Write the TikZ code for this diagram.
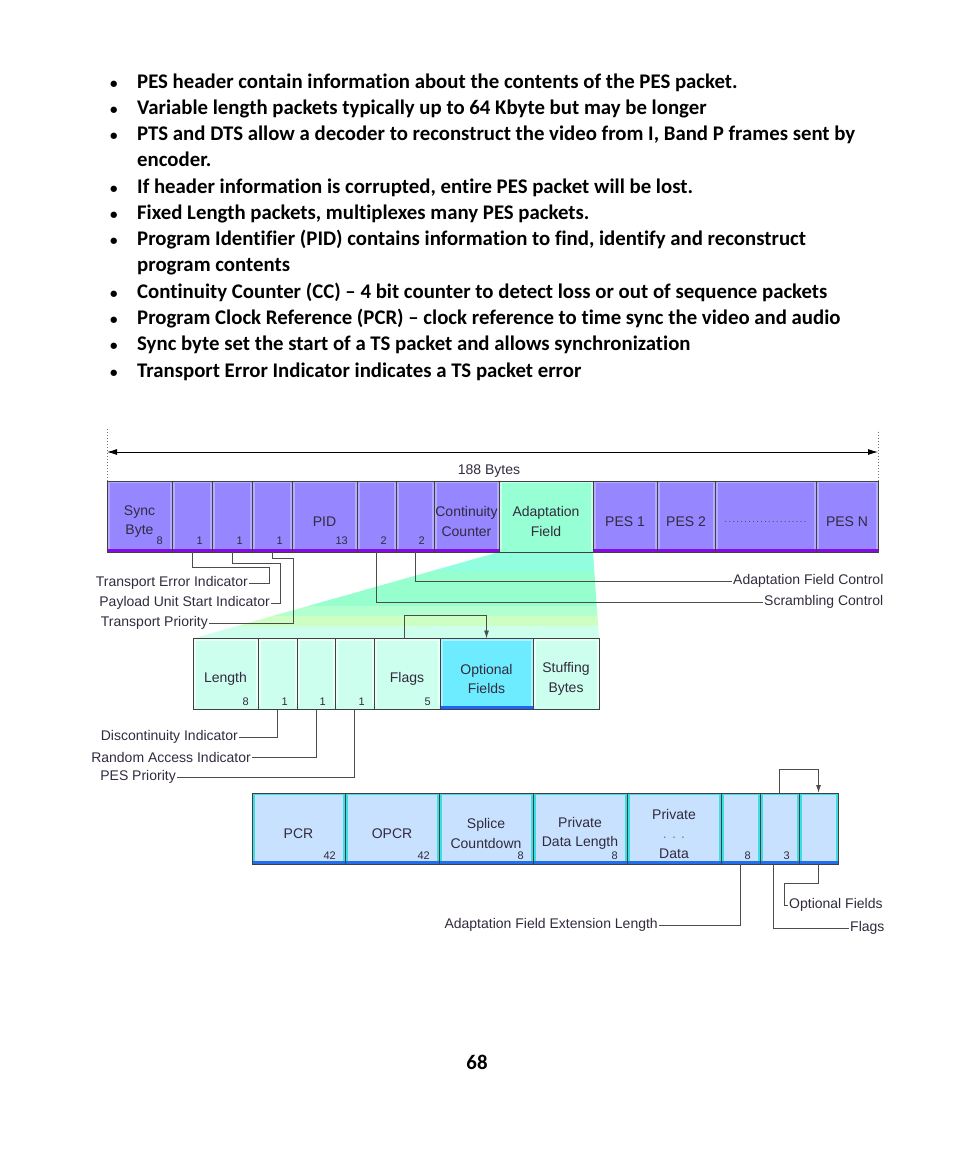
\documentclass[tikz,border=0pt]{standalone}
\usepackage{fontspec}
\setmainfont{Liberation Sans}
\newfontfamily\notefont[Ligatures=NoCommon]{Carlito}
\usepackage{xcolor}
\usepackage{tikz}
\usetikzlibrary{arrows.meta, positioning, backgrounds}

\definecolor{tspurple}{RGB}{150,134,255}
\definecolor{tsedge}{RGB}{182,170,255}
\definecolor{tsband}{RGB}{135,10,230}
\definecolor{afgreen}{RGB}{150,255,212}
\definecolor{afpale}{RGB}{205,255,238}
\definecolor{optcyan}{RGB}{110,236,255}
\definecolor{optblue}{RGB}{30,100,250}
\definecolor{exblue}{RGB}{200,225,255}
\definecolor{exedge}{RGB}{60,222,228}
\definecolor{exband}{RGB}{35,110,235}
\definecolor{txtgray}{RGB}{50,42,62}
\definecolor{gA}{RGB}{145,255,222}
\definecolor{gB}{RGB}{150,255,205}
\definecolor{gC}{RGB}{178,255,208}
\definecolor{gD}{RGB}{205,255,195}
\definecolor{gE}{RGB}{205,255,236}
\definecolor{cA}{RGB}{35,95,250}
\definecolor{cB}{RGB}{50,225,225}
\definecolor{cC}{RGB}{95,232,245}
\definecolor{cD}{RGB}{135,236,255}
\definecolor{cE}{RGB}{192,224,255}

\begin{document}
\begin{tikzpicture}[x=1pt, y=-1pt, >={Latex[length=8pt,width=5pt]},
    note/.style={font=\notefont\bfseries\fontsize{20.8}{26}\selectfont, anchor=west,
        inner sep=0pt, text height=14pt, text depth=5pt},
    pktbox/.style n args={3}{draw=black!75, line width=0.9pt, fill=#1, minimum height=71pt,
        inner sep=0pt, outer sep=0pt, path picture={
        \fill[#2] (path picture bounding box.north west) rectangle ([xshift=2.5pt]path picture bounding box.south west);
        \fill[#2] ([xshift=-2.5pt]path picture bounding box.north east) rectangle (path picture bounding box.south east);
        \fill[#2] (path picture bounding box.north west) rectangle ([yshift=-2pt]path picture bounding box.north east);
        \fill[#3] ([yshift=3.5pt]path picture bounding box.south west) rectangle (path picture bounding box.south east);}},
    tsrow/.style={pktbox={tspurple}{tsedge}{tsband}},
    afrow/.style={pktbox={afpale}{white!55!afpale}{afpale}},
    exrow/.style={pktbox={exblue}{exedge}{exband}},
    fieldtxt/.style={font=\fontsize{14}{19.5}\selectfont, text=txtgray, align=center,
        inner sep=0pt, anchor=center, yshift=-5pt},
    sizetxt/.style={font=\fontsize{11}{11}\selectfont, text=txtgray, inner sep=1pt,
        anchor=south east, xshift=-8pt},
    leadtxt/.style={font=\fontsize{14}{16}\selectfont, text=txtgray, inner sep=1pt},
    leader/.style={draw=black!70, line width=0.9pt}]

    \useasboundingbox (0,0) rectangle (954,1159);

    % Các ý chính
    \foreach \yy in {82,108,134,187,213,239,292,318,344,371}
        \node[note, font=\notefont\bfseries\fontsize{15}{15}\selectfont] (dot\yy) at (110,\yy+1.5) {\textbullet};
    \foreach \yy/\txt [count=\i] in {
        82/{PES header contain information about the contents of the PES packet.},
        108/{Variable length packets typically up to 64 Kbyte but may be longer},
        134/{PTS and DTS allow a decoder to reconstruct the video from I, Band P frames sent by},
        160/{encoder.},
        187/{If header information is corrupted, entire PES packet will be lost.},
        213/{Fixed Length packets, multiplexes many PES packets.},
        239/{Program Identifier (PID) contains information to find, identify and reconstruct},
        265/{program contents},
        292/{Continuity Counter (CC) – 4 bit counter to detect loss or out of sequence packets},
        318/{Program Clock Reference (PCR) – clock reference to time sync the video and audio},
        344/{Sync byte set the start of a TS packet and allows synchronization},
        371/{Transport Error Indicator indicates a TS packet error}}
        \node[note] (line\i) at (137,\yy+2) {\txt};

    % Gói TS 188 byte
    \coordinate (spanl) at (107,452);
    \coordinate (spanr) at (878,452);
    \draw[{Latex[length=10pt,width=6pt]}-{Latex[length=10pt,width=6pt]}, line width=0.9pt] (spanl) -- (spanr);
    \node[leadtxt] (bytes) at (489,471) {188 Bytes};

    \foreach \nm/\xa/\xb/\txt/\sz in {sync/107/172/{Sync\\Byte}/8, tei/172/212/{}/1,
        pusi/212/252/{}/1, tpri/252/292/{}/1, pid/292/357/PID/13, scr/357/396/{}/2,
        afc/396/434/{}/2, cc/434/499/{Continuity\\Counter}/{}, pes1/593/657/{PES 1}/{},
        pes2/657/715/{PES 2}/{}, pesn/816/878/{PES N}/{}}
        \node[tsrow, minimum width={\xb-\xa}, label={[fieldtxt]center:\txt},
            label={[sizetxt, yshift=6pt]south east:\sz}] (\nm) at ({(\xa+\xb)/2},516.5) {};
    \node[pktbox={afgreen}{afgreen!50!white}{afgreen}, minimum width=94,
        label={[fieldtxt]center:{Adaptation\\Field}}] (adapt) at (546,516.5) {};
    \node[tsrow, minimum width=101,
        label={[fieldtxt, yshift=-1pt]center:{\color{black!75}\fontsize{9}{9}\selectfont\hbox to 84pt{\dotfill}}}] (pesdots) at (765.5,516.5) {};

    \draw[dotted, line width=1pt, black!55] (sync.north west) -- ++(0,-53);
    \draw[dotted, line width=1pt, black!55] (pesn.north east) -- ++(0,-51);

    % Trường thích ứng
    \foreach \nm/\xa/\xb/\txt/\sz in {aflen/193/258/Length/8, disc/258/297/{}/1,
        rai/297/335/{}/1, espri/335/374/{}/1, flags/374/440/Flags/5,
        stuff/533/599/{Stuffing\\Bytes}/{}}
        \node[afrow, minimum width={\xb-\xa}, label={[fieldtxt]center:\txt},
            label={[sizetxt, yshift=3pt]south east:\sz}] (\nm) at ({(\xa+\xb)/2},674) {};
    \node[pktbox={optcyan}{optcyan!60!white}{optblue}, minimum width=93,
        label={[fieldtxt]center:{Optional\\Fields}}] (opt) at (486.5,674) {};

    % Các trường tùy chọn
    \foreach \nm/\xa/\xb/\txt/\sz in {pcr/252/345/PCR/42, opcr/345/439/OPCR/42,
        splice/439/533/{Splice\\Countdown}/8, pdlen/533/627/{Private\\Data Length}/8,
        pdata/627/721/{Private\\{\color{gray}. . .}\\Data}/{}, extlen/721/760/{}/8,
        extflags/760/799/{}/3, extopt/799/838/{}/{}}
        \node[exrow, minimum width={\xb-\xa}, label={[fieldtxt]center:\txt},
            label={[sizetxt, yshift=3pt]south east:\sz}] (\nm) at ({(\xa+\xb)/2},828.5) {};

    % Dải màu nối các hàng
    \begin{scope}[on background layer]
        \clip (adapt.south west) -- (adapt.south east) -- (stuff.north east) -- (aflen.north west) -- cycle;
        \fill[gA] (0,550) rectangle (954,572);
        \fill[gB] (0,572) rectangle (954,606);
        \fill[gC] (0,606) rectangle (954,616);
        \fill[gD] (0,616) rectangle (954,626);
        \fill[gE] (0,626) rectangle (954,640);
    \end{scope}
    \begin{scope}[on background layer]
        \clip (opt.south west) -- (opt.south east) -- (extopt.north east) -- (pcr.north west) -- cycle;
        \fill[cA] (0,706) rectangle (954,717);
        \fill[cB] (0,717) rectangle (954,742);
        \fill[cC] (0,742) rectangle (954,758);
        \fill[cD] (0,758) rectangle (954,780);
        \fill[cE] (0,780) rectangle (954,795);
    \end{scope}

    % Nhãn và đường dẫn
    \node[leadtxt, anchor=east] (lbltei) at (249,583) {Transport Error Indicator};
    \node[leadtxt, anchor=east] (lblpusi) at (271,603) {Payload Unit Start Indicator};
    \node[leadtxt, anchor=east] (lbltpri) at (209,623) {Transport Priority};
    \node[leadtxt, anchor=west] (lblafc) at (732,581) {Adaptation Field Control};
    \node[leadtxt, anchor=west] (lblscr) at (763,602) {Scrambling Control};
    \draw[leader] (tei.south) |- (269,567) |- (lbltei.east);
    \draw[leader] (pusi.south) |- (280,563) |- (lblpusi.east);
    \draw[leader] (tpri.south) |- (293,558) |- (lbltpri.east);
    \draw[leader] (afc.south) |- (lblafc.west);
    \draw[leader] (scr.south) |- (lblscr.west);

    \node[leadtxt, anchor=east] (lbldisc) at (239,737) {Discontinuity Indicator};
    \node[leadtxt, anchor=east] (lblrai) at (252,757) {Random Access Indicator};
    \node[leadtxt, anchor=east] (lblespri) at (177,777) {PES Priority};
    \draw[leader] (disc.south) |- (lbldisc.east);
    \draw[leader] (rai.south) |- (lblrai.east);
    \draw[leader] (espri.south) |- (lblespri.east);
    \draw[leader, ->] ([xshift=-3pt]flags.north) |- ([yshift=23pt]opt.north) -- (opt.north);

    \node[leadtxt, anchor=east] (lblextlen) at (659,925) {Adaptation Field Extension Length};
    \node[leadtxt, anchor=west] (lblopt) at (788,905) {Optional Fields};
    \node[leadtxt, anchor=west] (lblflags) at (849,928) {Flags};
    \draw[leader] (extlen.south) |- (lblextlen.east);
    \draw[leader] ([xshift=-6pt]extflags.south) |- (lblflags.west);
    \draw[leader] (extopt.south) |- (784,883) |- (lblopt.west);
    \draw[leader, ->] (extflags.north) |- ([yshift=24pt]extopt.north) -- (extopt.north);

    % Số trang
    \node[note, anchor=center] (pagenum) at (477,1065) {68};
\end{tikzpicture}
\end{document}
